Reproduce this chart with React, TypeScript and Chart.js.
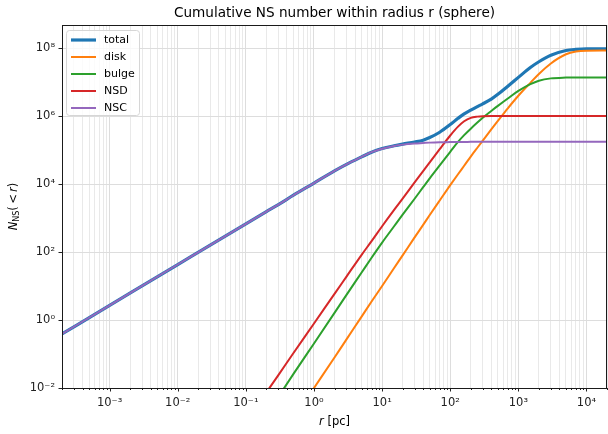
import React, { useEffect, useRef } from 'react';
import { Chart, registerables } from 'chart.js';

Chart.register(...registerables);

// radius r [pc]
const R = [
  2e-4, 1e-3, 1e-2, 0.1, 0.2, 0.3, 0.5, 1, 2, 3, 5, 7, 10, 15, 20, 30, 40, 50, 70,
  100, 130, 160, 200, 250, 300, 400, 500, 700, 1000, 1500, 2000, 3000, 5000, 7000,
  10000, 20000,
];

const TOTAL = [
  0.39, 2.7, 43, 680, 1550, 2500, 4700, 10700, 24500, 38000, 63000, 87000, 111000,
  134000, 150000, 173000, 196000, 234000, 335000, 565000, 860000, 1.17e6, 1.51e6,
  1.91e6, 2.29e6, 3.16e6, 4.37e6, 7.6e6, 1.38e7, 2.69e7, 3.98e7, 6.17e7, 8.5e7, 9.2e7,
  9.55e7, 9.55e7,
];

const DISK = [
  null, null, null, null, null, null, 0.00126, 0.01, 0.079, 0.27, 1.26, 3.5, 10, 34,
  80, 270, 630, 1230, 3300, 9300, 19500, 34700, 64600, 117500, 190500, 407000,
  724000, 1.7e6, 3.98e6, 9.55e6, 1.74e7, 3.55e7, 6.6e7, 7.94e7, 8.4e7, 8.5e7,
];

const BULGE = [
  null, null, null, null, null, 0.0055, 0.026, 0.204, 1.62, 5.5, 25, 68, 190, 575,
  1260, 3700, 8100, 14800, 35500, 89000, 174000, 275000, 427000, 646000, 891000,
  1.41e6, 2.0e6, 3.3e6, 5.5e6, 8.7e6, 1.1e7, 1.29e7, 1.365e7, 1.38e7, 1.38e7, 1.38e7,
];

const NSD = [
  null, null, null, null, 0.0074, 0.024, 0.107, 0.79, 5.9, 19, 83, 209, 575, 1740,
  3720, 11200, 24000, 43600, 107000, 269000, 490000, 708000, 891000, 966000, 992000,
  1e6, 1e6, 1e6, 1e6, 1e6, 1e6, 1e6, 1e6, 1e6, 1e6, 1e6,
];

const NSC = [
  0.39, 2.7, 43, 680, 1550, 2500, 4700, 10700, 24500, 38000, 63000, 87000, 110000,
  132000, 145000, 157000, 162000, 166000, 170000, 172000, 174000, 174000, 175000,
  175000, 175000, 175000, 175000, 175000, 175000, 175000, 175000, 175000, 175000,
  175000, 175000, 175000,
];

const SERIES_NAMES = ['total', 'disk', 'bulge', 'NSD', 'NSC'];
const SERIES_VALUES = [TOTAL, DISK, BULGE, NSD, NSC];

const X_TICKS = [1e-3, 1e-2, 1e-1, 1, 10, 100, 1000, 10000];
const X_TICK_LABELS = ['10⁻³', '10⁻²', '10⁻¹', '10⁰', '10¹', '10²', '10³', '10⁴'];
const Y_TICKS = [1e-2, 1, 1e2, 1e4, 1e6, 1e8];
const Y_TICK_LABELS = ['10⁻²', '10⁰', '10²', '10⁴', '10⁶', '10⁸'];

const TITLE = 'Cumulative NS number within radius r (sphere)';

const X_MIN = 2e-4;
const X_MAX = 2e4;
const Y_MIN = 1e-2;
const Y_MAX = 4.8e8;

// styles
const COLORS = ['#1f77b4', '#ff7f0e', '#2ca02c', '#d62728', '#9467bd'];
const WIDTHS = [3.2, 2, 2, 2, 2];
const FONT = '"DejaVu Sans", Verdana, sans-serif';

function labelFor(value: number, ticks: number[], labels: string[]): string {
  const lv = Math.log10(value);
  const i = ticks.findIndex((t) => Math.abs(Math.log10(t) - lv) < 1e-6);
  return i >= 0 ? labels[i] : '';
}

const decorPlugin = {
  id: 'decor',
  afterDraw(chart: any) {
    const ctx = chart.ctx as CanvasRenderingContext2D;
    const { left, right, top, bottom } = chart.chartArea;
    const xs = chart.scales.x;
    const ys = chart.scales.y;
    ctx.save();

    // tick marks
    ctx.strokeStyle = '#222';
    ctx.lineWidth = 1;
    ctx.beginPath();
    for (const t of xs.ticks) {
      const px = Math.round(xs.getPixelForValue(t.value)) + 0.5;
      const len = t.major ? 3.5 : 2;
      ctx.moveTo(px, bottom);
      ctx.lineTo(px, bottom + len);
    }
    for (const t of ys.ticks) {
      const py = Math.round(ys.getPixelForValue(t.value)) + 0.5;
      ctx.moveTo(left, py);
      ctx.lineTo(left - 3.5, py);
    }
    ctx.stroke();

    // spines
    ctx.strokeStyle = '#1a1a1a';
    ctx.lineWidth = 1;
    ctx.strokeRect(left + 0.5, top + 0.5, right - left - 1, bottom - top);

    // title
    ctx.fillStyle = '#000';
    ctx.font = `13.6px ${FONT}`;
    ctx.textAlign = 'center';
    ctx.textBaseline = 'middle';
    ctx.fillText(TITLE, (left + right) / 2, 13);

    const drawPieces = (pieces: { t: string; f: string; dy: number }[], cx: number, cy: number) => {
      let total = 0;
      for (const p of pieces) {
        ctx.font = p.f;
        total += ctx.measureText(p.t).width;
      }
      let x = cx - total / 2;
      ctx.textAlign = 'left';
      ctx.textBaseline = 'middle';
      for (const p of pieces) {
        ctx.font = p.f;
        ctx.fillText(p.t, x, cy + p.dy);
        x += ctx.measureText(p.t).width;
      }
    };
    // x axis title: r [pc]
    drawPieces(
      [
        { t: 'r', f: `italic 11.5px ${FONT}`, dy: 0 },
        { t: ' [pc]', f: `11.5px ${FONT}`, dy: 0 },
      ],
      (left + right) / 2,
      422
    );

    // y axis title: N_NS(<r)
    ctx.save();
    ctx.translate(14, (top + bottom) / 2);
    ctx.rotate(-Math.PI / 2);
    drawPieces(
      [
        { t: 'N', f: `italic 11.5px ${FONT}`, dy: 0 },
        { t: 'NS', f: `8px ${FONT}`, dy: 3 },
        { t: '(', f: `11.5px ${FONT}`, dy: 0 },
        { t: '\u2009<\u2009', f: `11.5px ${FONT}`, dy: 0 },
        { t: 'r', f: `italic 11.5px ${FONT}`, dy: 0 },
        { t: ')', f: `11.5px ${FONT}`, dy: 0 },
      ],
      0,
      0
    );
    ctx.restore();

    // legend
    const bx = 66.5, by = 30.5, bw = 73, bh = 85, rad = 3;
    ctx.beginPath();
    ctx.moveTo(bx + rad, by);
    ctx.lineTo(bx + bw - rad, by);
    ctx.quadraticCurveTo(bx + bw, by, bx + bw, by + rad);
    ctx.lineTo(bx + bw, by + bh - rad);
    ctx.quadraticCurveTo(bx + bw, by + bh, bx + bw - rad, by + bh);
    ctx.lineTo(bx + rad, by + bh);
    ctx.quadraticCurveTo(bx, by + bh, bx, by + bh - rad);
    ctx.lineTo(bx, by + rad);
    ctx.quadraticCurveTo(bx, by, bx + rad, by);
    ctx.closePath();
    ctx.fillStyle = 'rgba(255,255,255,0.8)';
    ctx.fill();
    ctx.strokeStyle = '#d6d6d6';
    ctx.lineWidth = 1;
    ctx.stroke();

    ctx.font = `11px ${FONT}`;
    ctx.textAlign = 'left';
    ctx.textBaseline = 'middle';
    SERIES_NAMES.forEach((name, i) => {
      const y = 40 + i * 17;
      ctx.strokeStyle = COLORS[i];
      ctx.lineWidth = WIDTHS[i];
      ctx.beginPath();
      ctx.moveTo(71, y);
      ctx.lineTo(96, y);
      ctx.stroke();
      ctx.fillStyle = '#000';
      ctx.fillText(name, 104, y);
    });

    ctx.restore();
  },
};

export default function App() {
  const ref = useRef<HTMLCanvasElement | null>(null);

  useEffect(() => {
    if (!ref.current) return;
    const datasets = SERIES_NAMES.map((name, i) => ({
      label: name,
      data: R.map((r, j) => ({ x: r, y: SERIES_VALUES[i][j] })),
      borderColor: COLORS[i],
      backgroundColor: COLORS[i],
      borderWidth: WIDTHS[i],
      pointRadius: 0,
      fill: false,
      cubicInterpolationMode: 'monotone' as const,
      order: SERIES_NAMES.length - i,
      clip: 0,
    }));

    const chart = new Chart(ref.current, {
      type: 'line',
      data: { datasets },
      options: {
        animation: false,
        responsive: false,
        devicePixelRatio: 1,
        events: [],
        layout: { padding: { top: 25, right: 1, left: 0, bottom: 0 } },
        plugins: {
          legend: { display: false },
          tooltip: { enabled: false },
          title: { display: false },
        },
        scales: {
          x: {
            type: 'logarithmic',
            min: X_MIN,
            max: X_MAX,
            bounds: 'data',
            border: { display: false },
            afterFit: (s: any) => {
              s.height = 46;
              s.paddingLeft = 0;
              s.paddingRight = 0;
            },
            afterBuildTicks: (s: any) => {
              const t: any[] = [];
              for (let e = -4; e <= 4; e++) {
                for (let k = 1; k <= 9; k++) {
                  const v = k * Math.pow(10, e);
                  if (v >= X_MIN * 0.999 && v <= X_MAX * 1.001) t.push({ value: v, major: k === 1 });
                }
              }
              s.ticks = t;
            },
            grid: {
              drawTicks: false,
              color: (c: any) => (c.tick && c.tick.major ? '#dddddd' : '#e9e9e9'),
              lineWidth: 1,
            },
            ticks: {
              autoSkip: false,
              maxRotation: 0,
              minRotation: 0,
              padding: 8,
              color: '#222',
              font: { family: FONT, size: 11.5 },
              callback: (value: any) => labelFor(Number(value), X_TICKS, X_TICK_LABELS),
            },
          },
          y: {
            type: 'logarithmic',
            min: Y_MIN,
            max: Y_MAX,
            bounds: 'data',
            border: { display: false },
            afterFit: (s: any) => {
              s.width = 62;
              s.paddingTop = 0;
              s.paddingBottom = 0;
            },
            afterBuildTicks: (s: any) => {
              s.ticks = Y_TICKS.map((v) => ({ value: v, major: true }));
            },
            grid: {
              drawTicks: false,
              color: '#dddddd',
              lineWidth: 1,
            },
            ticks: {
              autoSkip: false,
              padding: 7,
              color: '#222',
              font: { family: FONT, size: 11.5 },
              callback: (value: any) => labelFor(Number(value), Y_TICKS, Y_TICK_LABELS),
            },
          },
        },
      },
      plugins: [decorPlugin],
    });

    return () => chart.destroy();
  }, []);

  return (
    <div style={{ position: 'absolute', left: 0, top: 0, width: 608, height: 434 }}>
      <canvas ref={ref} width={608} height={434} style={{ display: 'block' }} />
    </div>
  );
}
